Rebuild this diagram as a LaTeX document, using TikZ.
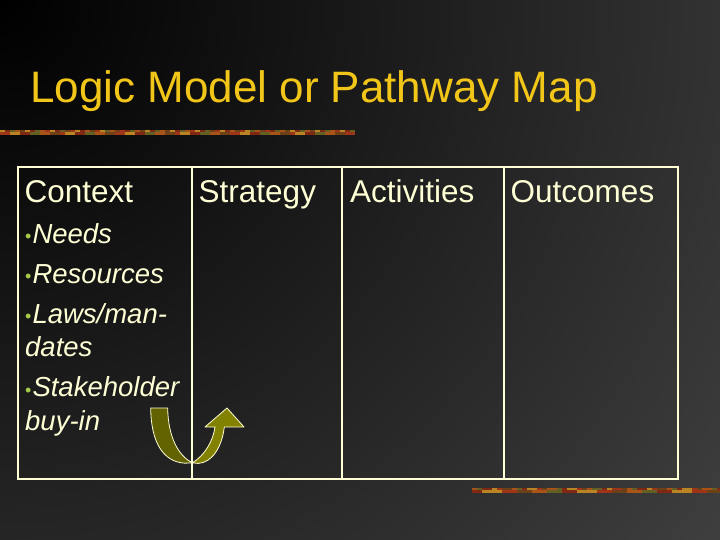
\documentclass[tikz,border=0pt]{standalone}
\usepackage{fontspec}
\setmainfont{Liberation Sans}

\definecolor{titlegold}{RGB}{242,198,24}
\definecolor{cream}{RGB}{255,255,214}
\definecolor{bulletgreen}{RGB}{164,204,72}
\definecolor{slidegray}{RGB}{80,80,80}
\definecolor{armdark}{RGB}{98,98,0}
\definecolor{armlight}{RGB}{130,130,0}
% grain colours of the rule strips
\definecolor{grain0}{RGB}{184,132,36}
\definecolor{grain1}{RGB}{128,40,20}
\definecolor{grain2}{RGB}{100,96,36}
\definecolor{grain3}{RGB}{168,84,24}
\definecolor{grain4}{RGB}{110,64,24}
\definecolor{grain5}{RGB}{160,52,24}

\newcommand{\itembullet}{{\color{bulletgreen}\fontsize{18}{18}\selectfont\upshape\raisebox{0.5pt}{•}}\hspace{1pt}}

\begin{document}
\begin{tikzpicture}[x=1pt,y=-1pt,
	slidetitle/.style={anchor=base west, inner sep=0pt, text=titlegold, font=\fontsize{44}{50}\selectfont},
	heading/.style={anchor=base west, inner sep=0pt, text=cream, font=\fontsize{31.5}{36}\selectfont},
	item/.style={anchor=base west, inner sep=0pt, text=cream, font=\fontsize{27.5}{32}\selectfont\itshape},
	rule/.style={cream, line width=1.5pt},
	arm/.style={draw=cream, line width=0.8pt, line join=round}]
	% Background
	\useasboundingbox (0,0) rectangle (720,540);
	\fill[slidegray] (0,0) rectangle (720,540);
	\begin{scope}
		\clip (0,0) rectangle (720,540);
		\shade[inner color=black, outer color=slidegray] (0,0) circle (1150pt);
	\end{scope}
	
	% Grain strips
	\foreach \x in {0,5,...,350} {
		\pgfmathtruncatemacro\k{mod(mod(\x*13,29),6)}
		\pgfmathtruncatemacro\j{mod(mod(\x*7+5,23),6)}
		\fill[grain\k] (\x,130) rectangle ++(5,2.3);
		\fill[grain\j] (\x,132.3) rectangle ++(5,2.3);
	}
	\foreach \x in {472,477,...,717} {
		\pgfmathtruncatemacro\k{mod(mod(\x*11,31),6)}
		\pgfmathtruncatemacro\j{mod(mod(\x*5+3,19),6)}
		\fill[grain\k] (\x,488) rectangle ++(5,2.3);
		\fill[grain\j] (\x,490.3) rectangle ++(5,2.3);
	}
	
	% Title
	\node[slidetitle] (ttl) at (30,102.7) {Logic Model or Pathway Map};
	
	% Turn-around arrow
	\fill[armdark, arm] (150.7,408) -- (167.7,408)
		.. controls (168,436) and (178,456) .. (192.5,462.8)
		-- (185,463.2) .. controls (163,462) and (151,442) .. cycle;
	\fill[armlight, arm] (192.5,462.8)
		.. controls (205,455) and (213,441) .. (215,427)
		-- (205,427) -- (227,408) -- (244,427) -- (224.3,427)
		.. controls (222,447) and (212,463) .. (198,463.4)
		-- cycle;
	
	% Table
	\draw[rule] (18,167) rectangle (678,479);
	\foreach \x in {192,342,504}
		\draw[rule] (\x,167) -- (\x,479);
	
	\node[heading] (context) at (24.5,203) {Context};
	\node[heading] (strategy) at (198.5,203) {Strategy};
	\node[heading] (activities) at (350,203) {Activities};
	\node[heading] (outcomes) at (510.5,203) {Outcomes};
	
	\node[item] (needs) at (25,243.3) {\itembullet Needs};
	\node[item] (resources) at (25,283.3) {\itembullet Resources};
	\node[item] (laws) at (25,323.3) {\itembullet Laws/man-};
	\node[item] (dates) at (25,356.7) {dates};
	\node[item] (stakeholder) at (25,396.7) {\itembullet Stakeholder};
	\node[item] (buyin) at (25,430.7) {buy-in};
\end{tikzpicture}
\end{document}
